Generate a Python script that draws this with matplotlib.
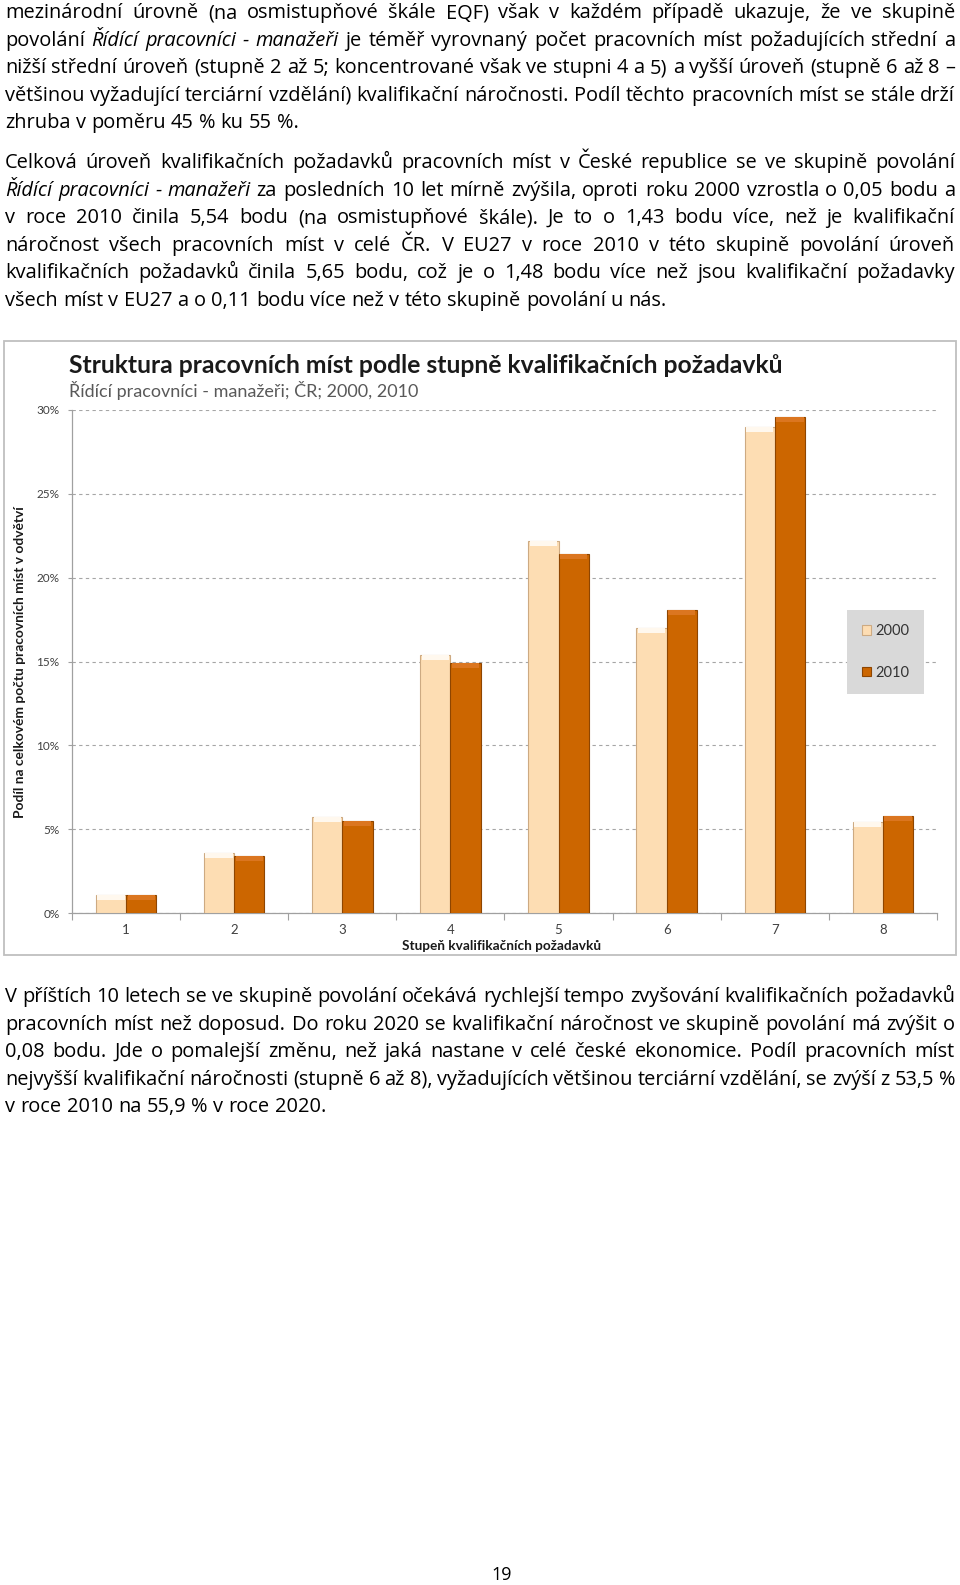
import numpy as np
import matplotlib
matplotlib.use("Agg")
import matplotlib.pyplot as plt
from matplotlib.patches import Rectangle

W, H = 960, 1585

# chart data (share of jobs in the group, %)
grades = ["1", "2", "3", "4", "5", "6", "7", "8"]
share_2000 = [1.05, 3.6, 5.7, 15.4, 22.2, 17.0, 29.0, 5.4]
share_2010 = [1.05, 3.4, 5.5, 14.9, 21.4, 18.1, 29.6, 5.8]
years = ["2000", "2010"]
yticks = [0, 5, 10, 15, 20, 25, 30]
ytick_labels = ["0%", "5%", "10%", "15%", "20%", "25%", "30%"]

title = "Struktura pracovních míst podle stupně kvalifikačních požadavků"
subtitle = "Řídící pracovníci - manažeři; ČR; 2000, 2010"
xlabel = "Stupeň kvalifikačních požadavků"
ylabel = "Podíl na celkovém počtu pracovních míst v odvětví"

# page text, "_" marks italic words, last line of each paragraph is not justified
para1 = [
    "mezinárodní úrovně (na osmistupňové škále EQF) však v každém případě ukazuje, že ve skupině",
    "povolání _Řídící _pracovníci _- _manažeři je téměř vyrovnaný počet pracovních míst požadujících střední a",
    "nižší střední úroveň (stupně 2 až 5; koncentrované však ve stupni 4 a 5) a vyšší úroveň (stupně 6 až 8 –",
    "většinou vyžadující terciární vzdělání) kvalifikační náročnosti. Podíl těchto pracovních míst se stále drží",
    "zhruba v poměru 45 % ku 55 %.",
]
para2 = [
    "Celková úroveň kvalifikačních požadavků pracovních míst v České republice se ve skupině povolání",
    "_Řídící _pracovníci _- _manažeři za posledních 10 let mírně zvýšila, oproti roku 2000 vzrostla o 0,05 bodu a",
    "v roce 2010 činila 5,54 bodu (na osmistupňové škále). Je to o 1,43 bodu více, než je kvalifikační",
    "náročnost všech pracovních míst v celé ČR. V EU27 v roce 2010 v této skupině povolání úroveň",
    "kvalifikačních požadavků činila 5,65 bodu, což je o 1,48 bodu více než jsou kvalifikační požadavky",
    "všech míst v EU27 a o 0,11 bodu více než v této skupině povolání u nás.",
]
para3 = [
    "V příštích 10 letech se ve skupině povolání očekává rychlejší tempo zvyšování kvalifikačních požadavků",
    "pracovních míst než doposud. Do roku 2020 se kvalifikační náročnost ve skupině povolání má zvýšit o",
    "0,08 bodu. Jde o pomalejší změnu, než jaká nastane v celé české ekonomice. Podíl pracovních míst",
    "nejvyšší kvalifikační náročnosti (stupně 6 až 8), vyžadujících většinou terciární vzdělání, se zvýší z 53,5 %",
    "v roce 2010 na 55,9 % v roce 2020.",
]

BODY = "Open Sans"
CHART = "Lato"
LEFT, RIGHT = 5, 955

fig = plt.figure(figsize=(W / 100, H / 100), dpi=100)
fig.patch.set_facecolor("white")
renderer = fig.canvas.get_renderer()


def fx(x):
    return x / W


def fy(y):
    return 1 - y / H


def width_of(t):
    return t.get_window_extent(renderer).width


def fit_text(s, x, y, target, **kw):
    t = fig.text(fx(x), fy(y), s, fontsize=10, **kw)
    t.set_fontsize(10 * target / width_of(t))
    return t


# body font size from an unjustified line
probe = fig.text(0, 0, para2[-1], fontsize=10, family=BODY)
body_size = 10 * 659 / width_of(probe)
probe.remove()


def put_line(line, base, justify):
    arts = []
    for w in line.split(" "):
        it = w.startswith("_")
        arts.append(fig.text(0, fy(base), w.lstrip("_") if it else w, fontsize=body_size,
                             family=BODY, style="italic" if it else "normal",
                             va="baseline", color="black"))
    widths = [width_of(a) for a in arts]
    sp = fig.text(0, 0, "a a", fontsize=body_size, family=BODY)
    sp2 = fig.text(0, 0, "aa", fontsize=body_size, family=BODY)
    gap = width_of(sp) - width_of(sp2)
    sp.remove()
    sp2.remove()
    if justify and len(arts) > 1:
        gap = (RIGHT - LEFT - sum(widths)) / (len(arts) - 1)
    x = LEFT
    for a, w in zip(arts, widths):
        a.set_x(fx(x))
        x += w + gap


def put_para(lines, first_base, step=27.6):
    for i, line in enumerate(lines):
        put_line(line, first_base + i * step, i < len(lines) - 1)


put_para(para1, 18)
put_para(para2, 168)
put_para(para3, 1002)

fig.text(fx(502), fy(1580), "19", fontsize=13, family=BODY, ha="center", va="baseline")

# chart frame
fig.add_artist(Rectangle((fx(4), fy(955)), (956 - 4) / W, (955 - 341) / H,
                         transform=fig.transFigure, facecolor="none",
                         edgecolor="#BFBFBF", lw=1.3))

fit_text(title, 69, 373, 717, family=CHART, weight="bold", color="#1a1a1a", va="baseline")
fit_text(subtitle, 69, 397, 348, family=CHART, color="#595959", va="baseline")

ax = fig.add_axes([fx(72), fy(913), (937 - 72) / W, (913 - 410) / H])
x = np.arange(len(grades))
bw = 0.28
c2000, c2010 = "#FDDDB3", "#CC6600"
ax.bar(x - bw / 2, share_2000, bw, color=c2000, edgecolor="#CDAA82", lw=0.8, label=years[0], zorder=3)
ax.bar(x + bw / 2, share_2010, bw, color=c2010, edgecolor="#8E4500", lw=0.8, label=years[1], zorder=3)
# soft bevel at the top of each bar
hl = 0.3
ax.bar(x - bw / 2, hl, bw * 0.9, bottom=np.array(share_2000) - hl, color="#FFF8EE", lw=0, zorder=4)
ax.bar(x + bw / 2, hl, bw * 0.9, bottom=np.array(share_2010) - hl, color="#DB7620", lw=0, zorder=4)

ax.set_xlim(-0.5, len(grades) - 0.5)
ax.set_ylim(0, 30)
ax.set_yticks(yticks)
ax.set_yticklabels(ytick_labels)
ax.set_xticks(x)
ax.set_xticklabels(grades)
ax.set_xticks(np.arange(-0.5, len(grades), 1), minor=True)
ax.tick_params(axis="x", which="major", length=0, pad=8, labelsize=9.5, labelcolor="#404040")
ax.tick_params(axis="x", which="minor", length=5, color="#A0A0A0", width=0.8)
ax.tick_params(axis="y", length=3, color="#A0A0A0", pad=6, labelsize=8.5, labelcolor="#404040")
for lab in ax.get_xticklabels() + ax.get_yticklabels():
    lab.set_family(CHART)
for s in ["top", "right"]:
    ax.spines[s].set_visible(False)
for s in ["left", "bottom"]:
    ax.spines[s].set_color("#A0A0A0")
    ax.spines[s].set_linewidth(0.9)
ax.yaxis.grid(True, ls=(0, (3, 3)), color="#A6A6A6", lw=0.8, zorder=0)
ax.set_axisbelow(True)

leg = ax.legend(loc="center", bbox_to_anchor=(fx(885.5), fy(652)), bbox_transform=fig.transFigure,
                frameon=True, fancybox=False, facecolor="#D9D9D9", edgecolor="none", framealpha=1,
                handlelength=0.6, handleheight=0.6, handletextpad=0.3, labelspacing=1.9,
                borderpad=1.0, prop={"family": CHART, "size": 10.5})
for t in leg.get_texts():
    t.set_color("#333333")

fit_text(xlabel, 502, 950, 199, family=CHART, weight="bold", ha="center", va="baseline", color="#1a1a1a")
t = fig.text(fx(20), fy(662), ylabel, fontsize=10, family=CHART, weight="bold", rotation=90,
             ha="center", va="center", color="#1a1a1a")
t.set_fontsize(10 * 311 / t.get_window_extent(renderer).height)

fig.savefig("out.png", dpi=100, facecolor="white")
